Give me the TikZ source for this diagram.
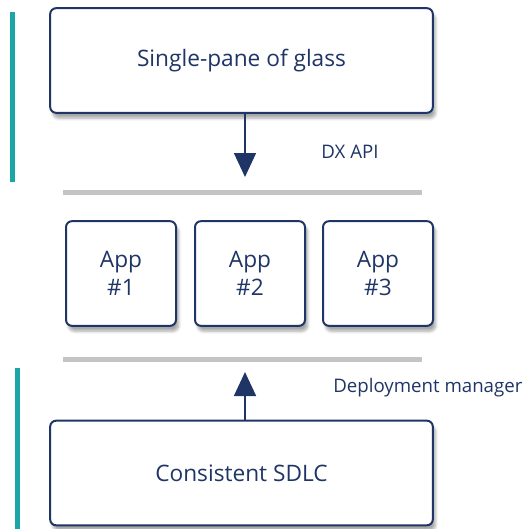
\documentclass[tikz,border=0pt]{standalone}
\usepackage{fontspec}
\setmainfont{Open Sans}
\usetikzlibrary{arrows.meta,shadows.blur}

\definecolor{navy}{HTML}{1F3566}
\definecolor{teal}{HTML}{1AA6A6}
\definecolor{bargray}{HTML}{C4C4C4}

\tikzset{
  panel/.style={draw=navy, line width=1.5pt, rounded corners=4.5pt, fill=white,
    text=navy, font=\fontsize{17}{21}\selectfont, align=center,
    blur shadow={shadow xshift=2pt, shadow yshift=-4pt, shadow blur steps=6, shadow opacity=35}},
  bigpanel/.style={panel, minimum width=287pt, minimum height=78.5pt},
  apppanel/.style={panel, minimum width=82.5pt, minimum height=78.5pt},
  layer/.style={bargray, line width=3.75pt},
  sidebar/.style={teal, line width=3.5pt},
  flow/.style={navy, line width=1.2pt, -{Triangle[length=18pt,width=16.5pt]}},
  tag/.style={text=navy, font=\fontsize{14}{16}\selectfont}
}

\begin{document}
\begin{tikzpicture}[x=0.75pt,y=-0.75pt]
    \useasboundingbox (0,0) rectangle (522,529);
    % side bars
    \draw [sidebar] (12.5,12) -- (12.5,182);
    \draw [sidebar] (17.5,368) -- (17.5,529);
    % layers
    \draw [layer] (63,192) -- (422,192);
    \draw [layer] (63,359) -- (422,359);
    % boxes
    \node [bigpanel] (glass) at (241.5,60.5) {Single-pane of glass};
    \node [apppanel] (app1) at (121,273.5) {App\\\#1};
    \node [apppanel] (app2) at (250,273.5) {App\\\#2};
    \node [apppanel] (app3) at (378,273.5) {App\\\#3};
    \node [bigpanel] (sdlc) at (241.5,473) {Consistent SDLC};
    % arrows
    \coordinate (api) at (245,177);
    \coordinate (deploy) at (245,372);
    \draw [flow] (glass.south -| api) -- (api);
    \draw [flow] (sdlc.north -| deploy) -- (deploy);
    \node [tag] (apilabel) at (350,152) {DX API};
    \node [tag, anchor=west, inner sep=0pt] (deploylabel) at (333,388) {Deployment manager};
\end{tikzpicture}
\end{document}
